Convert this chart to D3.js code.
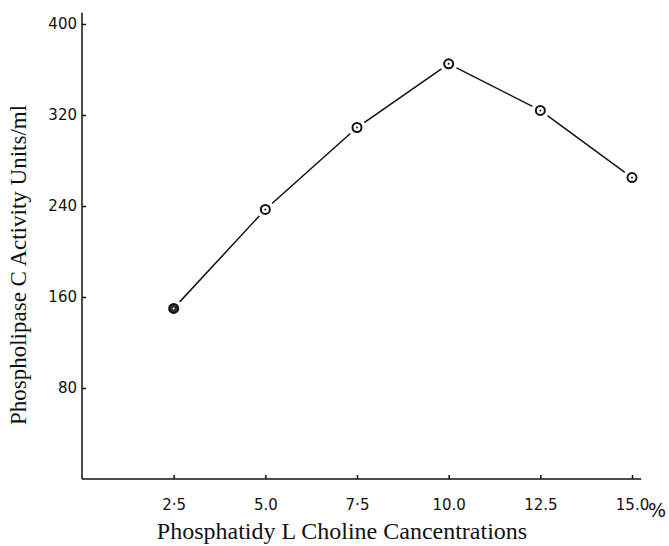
<!DOCTYPE html>
<html>
<head>
<meta charset="utf-8">
<script src="https://cdn.jsdelivr.net/npm/d3@7"></script>
<style>
  body { margin: 0; background: #fff; }
  svg { display: block; }
</style>
</head>
<body>
<div id="chart"></div>
<script>
// concentration (%) et activité
const concentrations = [2.5, 5.0, 7.5, 10.0, 12.5, 15.0]
const activity = [150, 237, 309, 365, 324, 265]
const xTickLabels = ["2·5", "5.0", "7·5", "10.0", "12.5", "15.0"]
const yTicks = [80, 160, 240, 320, 400]

const width = 669
const height = 546

const svg = d3.select("#chart")
  .append("svg")
    .attr("width", width)
    .attr("height", height)

const x = d3.scaleLinear()
  .domain([0, 15])
  .range([82, 632])

const y = d3.scaleLinear()
  .domain([0, 400])
  .range([479, 24])

// axes
svg.append("g")
  .attr("transform", `translate(0,${y(0)})`)
  .call(d3.axisBottom(x)
    .tickValues(concentrations)
    .tickFormat((d, i) => xTickLabels[i])
    .tickSizeInner(-4)
    .tickSizeOuter(0)
    .tickPadding(20))
  .call(g => g.select(".domain").remove())
  .call(g => g.selectAll("line").attr("stroke", "#111").attr("stroke-width", 1.5))
  .call(g => g.selectAll("text")
    .attr("font-family", "'DejaVu Sans', sans-serif")
    .attr("font-size", 15)
    .attr("fill", "#111"))

svg.append("g")
  .attr("transform", `translate(${x(0)},0)`)
  .call(d3.axisLeft(y)
    .tickValues(yTicks)
    .tickSizeInner(-4)
    .tickSizeOuter(0)
    .tickPadding(5))
  .call(g => g.select(".domain").remove())
  .call(g => g.selectAll("line").attr("stroke", "#111").attr("stroke-width", 1.5))
  .call(g => g.selectAll("text")
    .attr("font-family", "'DejaVu Sans', sans-serif")
    .attr("font-size", 15)
    .attr("fill", "#111"))

// lignes des axes
svg.append("line")
  .attr("x1", x(0)).attr("x2", x(0))
  .attr("y1", y(410)).attr("y2", y(0))
  .attr("stroke", "#111").attr("stroke-width", 1.5)
svg.append("line")
  .attr("x1", x(0)).attr("x2", x(15.25))
  .attr("y1", y(0)).attr("y2", y(0))
  .attr("stroke", "#111").attr("stroke-width", 1.5)

// symbole %
svg.append("text")
  .attr("x", x(15) + 16)
  .attr("y", y(0) + 38)
  .attr("font-family", "'DejaVu Sans', sans-serif")
  .attr("font-size", 19)
  .attr("fill", "#111")
  .text("%")

// titres
svg.append("text")
  .attr("x", 342)
  .attr("y", 539)
  .attr("text-anchor", "middle")
  .attr("font-family", "'Liberation Serif', serif")
  .attr("font-size", 24)
  .attr("fill", "#111")
  .text("Phosphatidy L Choline Cancentrations")

svg.append("text")
  .attr("transform", "translate(26,265) rotate(-90)")
  .attr("text-anchor", "middle")
  .attr("font-family", "'Liberation Serif', serif")
  .attr("font-size", 23)
  .attr("fill", "#111")
  .text("Phospholipase C Activity Units/ml")

// courbe
const data = concentrations.map((c, i) => ({c: c, v: activity[i]}))

const line = d3.line()
  .x(d => x(d.c))
  .y(d => y(d.v))

svg.append("path")
  .datum(data)
  .attr("fill", "none")
  .attr("stroke", "#111")
  .attr("stroke-width", 1.5)
  .attr("d", line)

// petits blancs autour des points
svg.selectAll("halo")
  .data(data)
  .join("circle")
    .attr("cx", d => x(d.c))
    .attr("cy", d => y(d.v))
    .attr("r", 9)
    .attr("fill", "#fff")

svg.selectAll("marker")
  .data(data)
  .join("circle")
    .attr("cx", d => x(d.c))
    .attr("cy", d => y(d.v))
    .attr("r", 4.5)
    .attr("fill", (d, i) => i === 0 ? "#333" : "#fff")
    .attr("stroke", "#111")
    .attr("stroke-width", 2)

svg.selectAll("dot")
  .data(data)
  .join("circle")
    .attr("cx", d => x(d.c))
    .attr("cy", d => y(d.v))
    .attr("r", 1)
    .attr("fill", (d, i) => i === 0 ? "#fff" : "#111")
</script>
</body>
</html>
